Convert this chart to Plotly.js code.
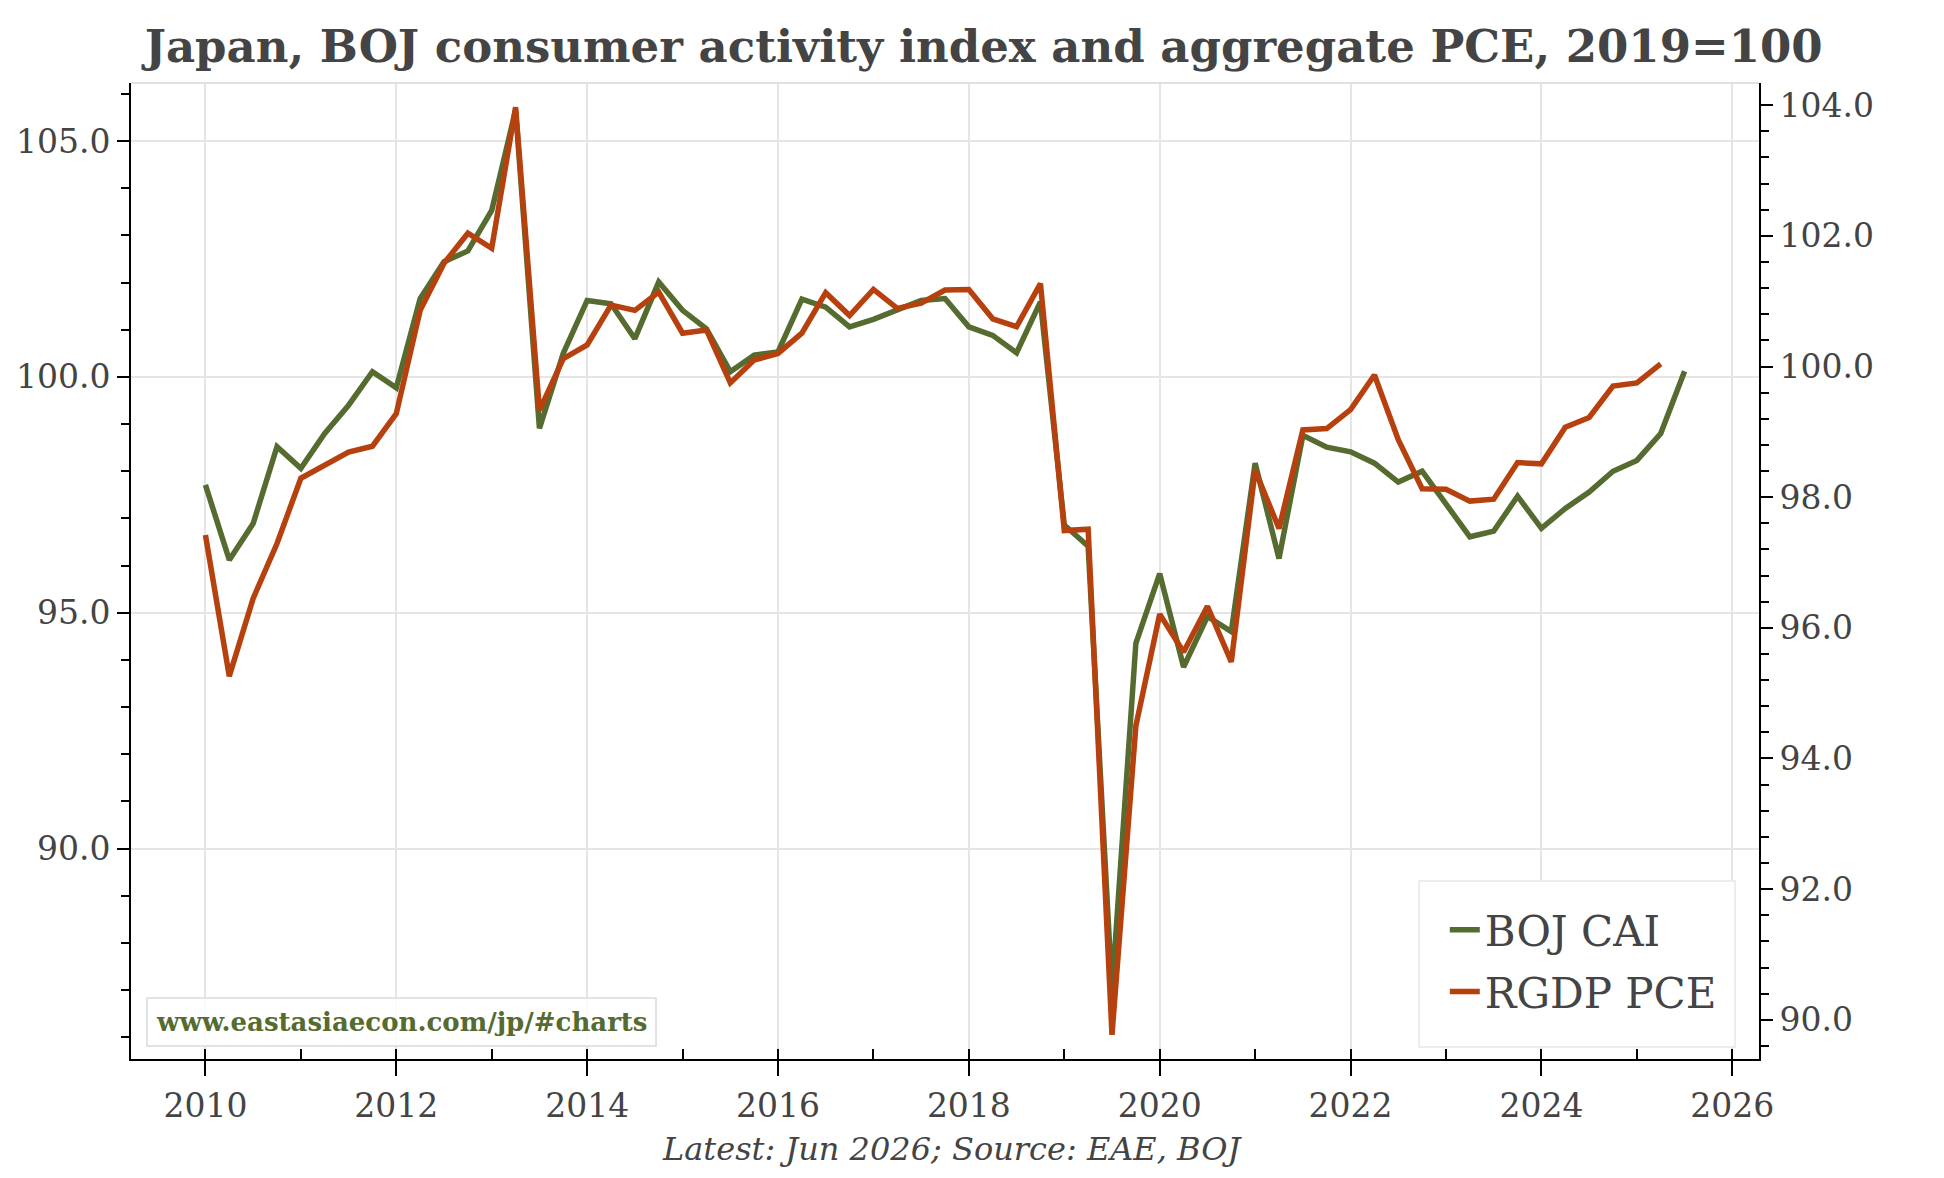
<!DOCTYPE html>
<html>
<head>
<meta charset="utf-8">
<script src="https://cdn.plot.ly/plotly-3.0.1.min.js"></script>
<style>
  html, body { margin: 0; padding: 0; background: #fff; }
  #chart { width: 1944px; height: 1178px; }
</style>
</head>
<body>
<div id="chart"></div>
<script>
// quarterly dates as decimal years
var dates = [
  2010.00, 2010.25, 2010.50, 2010.75, 2011.00, 2011.25, 2011.50, 2011.75,
  2012.00, 2012.25, 2012.50, 2012.75, 2013.00, 2013.25, 2013.50, 2013.75,
  2014.00, 2014.25, 2014.50, 2014.75, 2015.00, 2015.25, 2015.50, 2015.75,
  2016.00, 2016.25, 2016.50, 2016.75, 2017.00, 2017.25, 2017.50, 2017.75,
  2018.00, 2018.25, 2018.50, 2018.75, 2019.00, 2019.25, 2019.50, 2019.75,
  2020.00, 2020.25, 2020.50, 2020.75, 2021.00, 2021.25, 2021.50, 2021.75,
  2022.00, 2022.25, 2022.50, 2022.75, 2023.00, 2023.25, 2023.50, 2023.75,
  2024.00, 2024.25, 2024.50, 2024.75, 2025.00, 2025.25, 2025.50
];

// BOJ consumer activity index (left axis)
var bojCai = [
  97.71, 96.12, 96.89, 98.52, 98.06, 98.80, 99.40, 100.11,
  99.77, 101.66, 102.44, 102.67, 103.53, 105.65, 98.91, 100.50,
  101.62, 101.55, 100.81, 102.01, 101.41, 101.02, 100.11, 100.46,
  100.53, 101.65, 101.48, 101.06, 101.22, 101.43, 101.62, 101.66,
  101.06, 100.88, 100.51, 101.59, 96.86, 96.41, 87.00, 94.35,
  95.83, 93.85, 94.92, 94.60, 98.17, 96.15, 98.76, 98.51,
  98.41, 98.17, 97.77, 98.00, 97.30, 96.61, 96.73, 97.47,
  96.79, 97.21, 97.56, 98.00, 98.23, 98.80, 100.12
];

// real GDP private consumption (right axis), one quarter shorter
var rgdpPce = [
  97.42, 95.26, 96.45, 97.29, 98.29, 98.49, 98.69, 98.78,
  99.28, 100.86, 101.58, 102.04, 101.81, 103.97, 99.33, 100.12,
  100.33, 100.94, 100.86, 101.14, 100.51, 100.56, 99.75, 100.10,
  100.20, 100.51, 101.13, 100.78, 101.18, 100.89, 100.97, 101.17,
  101.18, 100.73, 100.61, 101.27, 97.49, 97.51, 89.77, 94.50,
  96.21, 95.63, 96.33, 95.48, 98.41, 97.52, 99.03, 99.05,
  99.34, 99.87, 98.88, 98.13, 98.12, 97.94, 97.97, 98.53,
  98.51, 99.07, 99.22, 99.70, 99.75, 100.04
];

var seriesNames = ['BOJ CAI', 'RGDP PCE'];
var titleText = 'Japan, BOJ consumer activity index and aggregate PCE, 2019=100';
var footText = 'Latest: Jun 2026; Source: EAE, BOJ';
var siteText = 'www.eastasiaecon.com/jp/#charts';

var green = '#556b2f';
var rust = '#b7410e';
var ink = '#444444';
var serif = 'DejaVu Serif, Liberation Serif, serif';

var traces = [
  {
    x: dates, y: bojCai, name: seriesNames[0], yaxis: 'y',
    type: 'scatter', mode: 'lines', legendgroup: 'a',
    line: { color: green, width: 5.5 }
  },
  {
    x: dates.slice(0, rgdpPce.length), y: rgdpPce, name: seriesNames[1], yaxis: 'y2',
    type: 'scatter', mode: 'lines', legendgroup: 'b',
    line: { color: rust, width: 5.5 }
  }
];

var tickFont = { family: serif, size: 33, color: ink };

var layout = {
  width: 1944,
  height: 1178,
  margin: { l: 131, r: 185, t: 83, b: 119 },
  paper_bgcolor: '#fff',
  plot_bgcolor: '#fff',
  title: {
    text: '<b>' + titleText + '</b>',
    font: { family: serif, size: 45, color: ink },
    x: 0.506, xanchor: 'center',
    y: 0.961, yanchor: 'middle'
  },
  xaxis: {
    range: [2009.22, 2026.28],
    tick0: 2010, dtick: 2,
    showgrid: true, gridcolor: '#e5e5e5', gridwidth: 2,
    zeroline: false,
    showline: true, linecolor: '#000', linewidth: 2,
    ticks: 'outside', ticklen: 15, tickwidth: 2, tickcolor: '#000',
    tickfont: tickFont,
    ticklabelstandoff: 1,
    minor: { dtick: 1, ticks: 'inside', ticklen: 10, tickwidth: 2, tickcolor: '#000', showgrid: false }
  },
  yaxis: {
    range: [85.54, 106.23],
    tick0: 90, dtick: 5, tickformat: '.1f',
    showgrid: true, gridcolor: '#e5e5e5', gridwidth: 2,
    zeroline: false,
    showline: true, linecolor: '#000', linewidth: 2,
    ticks: 'outside', ticklen: 12, tickwidth: 2, tickcolor: '#000',
    tickfont: tickFont,
    minor: { dtick: 1, ticks: 'outside', ticklen: 8, tickwidth: 2, tickcolor: '#000', showgrid: false }
  },
  yaxis2: {
    overlaying: 'y', side: 'right',
    range: [89.40, 104.34],
    tick0: 90, dtick: 2, tickformat: '.1f',
    showgrid: false, zeroline: false,
    showline: true, linecolor: '#000', linewidth: 2,
    ticks: 'outside', ticklen: 12, tickwidth: 2, tickcolor: '#000',
    tickfont: tickFont,
    minor: { dtick: 0.4, ticks: 'outside', ticklen: 8, tickwidth: 2, tickcolor: '#000', showgrid: false }
  },
  showlegend: true,
  legend: {
    x: 0.807, xanchor: 'left',
    y: 0.167, yanchor: 'top',
    bgcolor: 'rgba(0,0,0,0)', borderwidth: 0,
    font: { family: serif, size: 42, color: ink },
    traceorder: 'grouped', tracegroupgap: 4
  },
  shapes: [
    // light frame line along the top of the plot
    { type: 'line', xref: 'paper', yref: 'paper', x0: 0, x1: 1, y0: 1, y1: 1,
      line: { color: '#e0e0e0', width: 2 } },
    // legend box
    { type: 'rect', xref: 'paper', yref: 'paper', layer: 'above',
      x0: 0.7912, x1: 0.9853, y0: 0.0123, y1: 0.1824,
      fillcolor: '#fff', line: { color: '#ececec', width: 2 } }
  ],
  annotations: [
    { text: '<b>' + siteText + '</b>', xref: 'paper', yref: 'paper',
      x: 0.166, y: 0.038, xanchor: 'center', yanchor: 'middle', showarrow: false,
      font: { family: serif, size: 26, color: green },
      bgcolor: 'rgba(255,255,255,0.8)', bordercolor: '#e3e3e3', borderwidth: 2, borderpad: 8 },
    { text: '<i>' + footText + '</i>', xref: 'paper', yref: 'paper',
      x: 0.504, y: -0.092, xanchor: 'center', yanchor: 'middle', showarrow: false,
      font: { family: serif, size: 32, color: ink } }
  ]
};

Plotly.newPlot('chart', traces, layout, { displayModeBar: false, staticPlot: true });
</script>
</body>
</html>
